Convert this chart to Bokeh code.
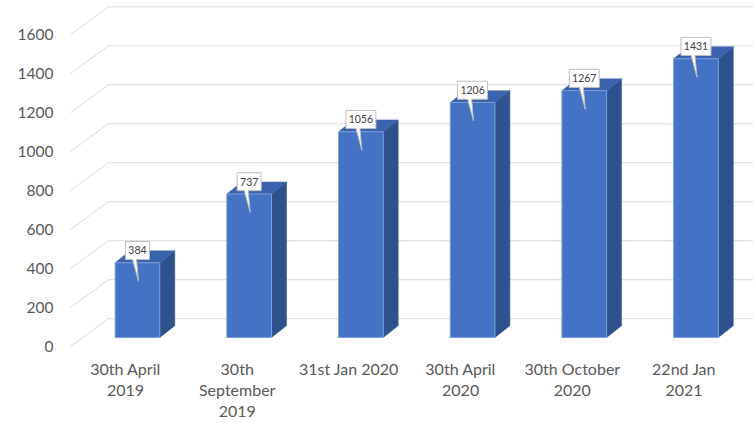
from bokeh.plotting import figure
from bokeh.models import Range1d, LinearAxis, FixedTicker, ColumnDataSource
from bokeh.core.properties import value
from bokeh.embed import file_html
from bokeh.resources import INLINE

# ---- data ----
categories = ["30th April\n2019", "30th\nSeptember\n2019", "31st Jan 2020",
              "30th April\n2020", "30th October\n2020", "22nd Jan\n2021"]
counts = [384, 737, 1056, 1206, 1267, 1431]
y_ticks = [0, 200, 400, 600, 800, 1000, 1200, 1400, 1600]

# ---- style / geometry constants ----
FONT = "Lato"
X0, X1 = -0.707, 5.515          # bar plane x range
Y0, Y1 = -66.3, 1729.6          # bar plane y range
AX_DY = 46                      # front axis plane offset (units)
AX_DX = 0.107
WALL_DY = 97                    # back wall offset (units)
WALL_FRONT_X, WALL_BACK_X = -0.600, -0.260
BAR_W = 0.40
DEPTH_X, DEPTH_Y = 0.134, 61

p = figure(width=753, height=423, x_range=Range1d(X0, X1), y_range=Range1d(Y0, Y1),
           x_axis_type=None, y_axis_type=None, output_backend="svg", toolbar_location=None,
           min_border_left=58, min_border_right=0, min_border_top=0, min_border_bottom=71)
p.outline_line_color = None
p.grid.visible = False
p.background_fill_color = "white"
p.border_fill_color = "white"

p.extra_y_ranges = {"axis": Range1d(Y0 + AX_DY, Y1 + AX_DY)}
p.extra_x_ranges = {"xaxis": Range1d(X0 + AX_DX, X1 + AX_DX)}

yax = LinearAxis(y_range_name="axis", ticker=FixedTicker(ticks=y_ticks))
yax.axis_line_color = None
yax.major_tick_line_color = None
yax.minor_tick_line_color = None
yax.major_tick_out = 0
yax.major_label_standoff = 5
yax.major_label_text_font = FONT
yax.major_label_text_font_size = "15.5px"
yax.major_label_text_color = "#595959"
p.add_layout(yax, "left")

xax = LinearAxis(x_range_name="xaxis", ticker=FixedTicker(ticks=list(range(len(categories)))))
xax.major_label_overrides = {i: c for i, c in enumerate(categories)}
xax.axis_line_color = None
xax.major_tick_line_color = None
xax.minor_tick_line_color = None
xax.major_tick_out = 0
xax.major_label_standoff = 8
xax.major_label_text_font = FONT
xax.major_label_text_font_size = "16px"
xax.major_label_text_color = "#595959"
xax.major_label_text_line_height = 1.13
p.add_layout(xax, "below")

# ---- 3D gridlines (floor diagonal + back wall) ----
grid_col = "#d9d9d9"
p.segment(x0=[WALL_FRONT_X] * len(y_ticks), y0=[t - AX_DY for t in y_ticks],
          x1=[WALL_BACK_X] * len(y_ticks), y1=[t + WALL_DY for t in y_ticks],
          line_color=grid_col, line_width=1)
p.segment(x0=[WALL_BACK_X] * len(y_ticks), y0=[t + WALL_DY for t in y_ticks],
          x1=[X1 + 1] * len(y_ticks), y1=[t + WALL_DY for t in y_ticks],
          line_color=grid_col, line_width=1)

# ---- 3D bars ----
xs = list(range(len(counts)))
side_x, side_y, top_x, top_y = [], [], [], []
for i, v in zip(xs, counts):
    l, r = i - BAR_W / 2, i + BAR_W / 2
    side_x.append([r, r + DEPTH_X, r + DEPTH_X, r])
    side_y.append([0, DEPTH_Y, v + DEPTH_Y, v])
    top_x.append([l, l + DEPTH_X, r + DEPTH_X, r])
    top_y.append([v, v + DEPTH_Y, v + DEPTH_Y, v])
p.patches(side_x, side_y, fill_color="#2F528F", line_color="#2F528F", line_width=0.5)
p.patches(top_x, top_y, fill_color="#3A63AD", line_color="#3A63AD", line_width=0.5)
p.vbar(x=xs, top=counts, bottom=0, width=BAR_W, fill_color="#4472C4",
       line_color="#7F9FDA", line_width=1)

# ---- callout data labels ----
BOX_DY = 63
BOX_BOTTOM = 18
TIP_DY = -95
labels = [str(v) for v in counts]
src = ColumnDataSource(dict(x=xs, y=[v + BOX_DY for v in counts], t=labels,
                            w=[6 * len(s) + 6 for s in labels]))
p.rect(x="x", y="y", width="w", height=18, width_units="screen", height_units="screen",
       source=src, fill_color="white", line_color="#bfbfbf", line_width=1)
wx, wy, lx, ly = [], [], [], []
for i, v in zip(xs, counts):
    b = v + BOX_BOTTOM
    wx.append([i - 0.045, i - 0.009, i + 0.009])
    wy.append([b + 6, b + 6, v + TIP_DY])
    lx.append([i - 0.045, i + 0.009, i - 0.009])
    ly.append([b, v + TIP_DY, b])
p.patches(wx, wy, fill_color="white", line_color=None)
p.multi_line(lx, ly, line_color="#bfbfbf", line_width=1)
p.text(x="x", y="y", text="t", source=src, text_align="center", text_baseline="middle",
       text_font=value(FONT), text_font_size="10.5px", text_color="#404040")

open("out.html", "w").write(file_html(p, INLINE))
